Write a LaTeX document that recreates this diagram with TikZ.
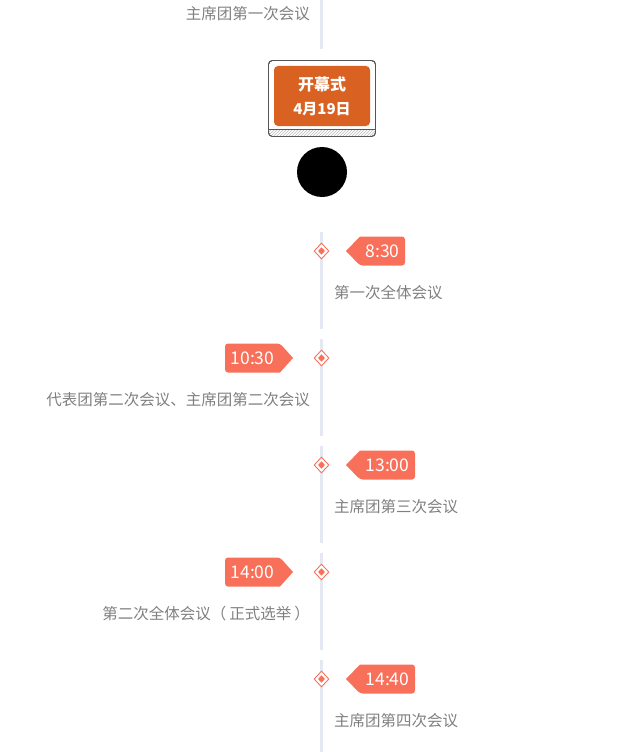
\documentclass[tikz,border=0pt]{standalone}
\usepackage{fontspec}
\setmainfont{Noto Sans CJK SC}
\usetikzlibrary{shapes.geometric,patterns}
\definecolor{tagc}{RGB}{248,112,89}
\definecolor{linec}{RGB}{228,232,243}
\definecolor{txtc}{RGB}{128,128,128}
\definecolor{openc}{RGB}{217,98,35}
\definecolor{framec}{RGB}{85,85,85}
\tikzset{
  seg/.style={linec,line width=3},
  evtxt/.style={text=txtc,font=\fontsize{15.5}{17}\selectfont,inner sep=0},
  tagtxt/.style={text=white,font=\fontsize{17.5}{19}\selectfont,inner sep=0},
  dmo/.style={diamond,draw=tagc,fill=white,line width=0.9,minimum width=15,minimum height=16,inner sep=0},
  dmi/.style={diamond,fill=tagc,minimum width=7,minimum height=7.5,inner sep=0},
  tagf/.style={fill=tagc},
}
\begin{document}
\begin{tikzpicture}[x=1pt,y=-1pt]
\useasboundingbox (0,0) rectangle (644,752);
% timeline segments
\draw[seg] (321.5,0) -- (321.5,49);
\foreach \a/\b in {232/329,339/436,446/543,553/650,660/752}
  \draw[seg] (321.5,\a) -- (321.5,\b);
% top text
\node[evtxt,anchor=east] (t0) at (310,14) {主席团第一次会议};
% opening box
\draw[framec,fill=white,rounded corners=4,line width=0.9] (268.5,60.5) rectangle (375.5,136.5);
\begin{scope}
  \clip[rounded corners=4] (268.5,60.5) rectangle (375.5,136.5);
  \fill[pattern=north east lines,pattern color=gray!55] (268,129.5) rectangle (376,137);
\end{scope}
\draw[framec,line width=0.8] (268.5,129.5) -- (375.5,129.5);
\draw[framec,rounded corners=4,line width=0.9] (268.5,60.5) rectangle (375.5,136.5);
\node[fill=openc,rounded corners=4,minimum width=96,minimum height=60,inner sep=0] (open) at (322,96) {};
\node[text=white,font=\bfseries\fontsize{16}{18}\selectfont,inner sep=0] (openA) at (322,84) {开幕式};
\node[text=white,font=\bfseries\fontsize{15}{17}\selectfont,inner sep=0] (openB) at (322,109) {4月19日};
\node[circle,fill=black,minimum size=50,inner sep=0] (dot) at (322,172) {};
% right tags
\foreach \c/\w/\t/\e [count=\i] in {251/405/8:30/第一次全体会议,465/415/13:00/主席团第三次会议,679/415/14:40/主席团第四次会议}{
  \node[dmo] (dr\i) at (321.5,\c) {};
  \node[dmi] (di\i) at (321.5,\c) {};
  \fill[tagf] (346,\c) -- (360,\c-14.5) [rounded corners=3] -- (\w,\c-14.5) -- (\w,\c+14.5) -- (360,\c+14.5) [sharp corners] -- cycle;
  \node[tagtxt] (tr\i) at ({(360+\w)/2},\c) {\t};
  \node[evtxt,anchor=west] (er\i) at (334,\c+42) {\e};
}
% left tags
\foreach \c/\t/\e [count=\i] in {358/10:30/代表团第二次会议、主席团第二次会议,572/14:00/第二次全体会议（\hspace{3pt}正式选举\hspace{3pt}）}{
  \node[dmo] (dl\i) at (321.5,\c) {};
  \node[dmi] (dj\i) at (321.5,\c) {};
  \fill[tagf] (293,\c) -- (280,\c+14.5) [rounded corners=3] -- (225,\c+14.5) -- (225,\c-14.5) -- (280,\c-14.5) [sharp corners] -- cycle;
  \node[tagtxt] (tl\i) at (252.5,\c) {\t};
  \node[evtxt,anchor=east] (el\i) at (310,\c+42) {\e};
}
\end{tikzpicture}
\end{document}
